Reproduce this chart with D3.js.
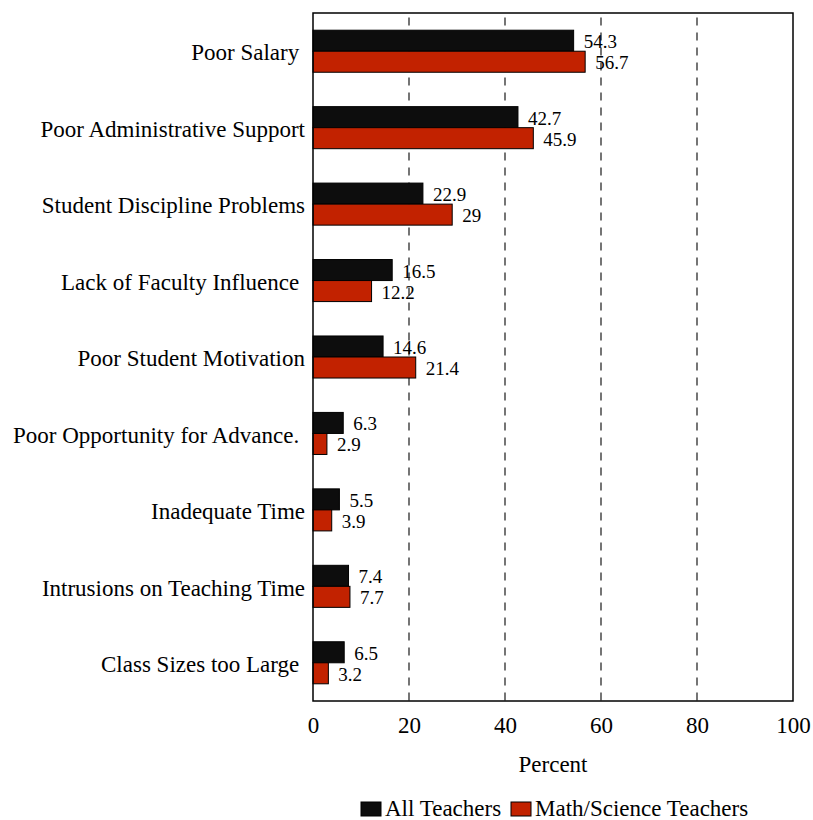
<!DOCTYPE html>
<html>
<head>
<meta charset="utf-8">
<script src="https://cdn.jsdelivr.net/npm/d3@7"></script>
<style>
  html, body { margin: 0; padding: 0; background: #fff; }
  svg { display: block; }
  text { font-family: "Liberation Serif", "Times New Roman", serif; fill: #000; }
</style>
</head>
<body>
<svg id="chart" width="813" height="820"></svg>
<script>
const categories = [
  "Poor Salary ",
  "Poor Administrative Support",
  "Student Discipline Problems",
  "Lack of Faculty Influence ",
  "Poor Student Motivation",
  "Poor Opportunity for Advance. ",
  "Inadequate Time",
  "Intrusions on Teaching Time",
  "Class Sizes too Large "
];
const seriesNames = ["All Teachers", "Math/Science Teachers"];
const allTeachers = [54.3, 42.7, 22.9, 16.5, 14.6, 6.3, 5.5, 7.4, 6.5];
const mathScience = [56.7, 45.9, 29, 12.2, 21.4, 2.9, 3.9, 7.7, 3.2];
const xTicks = [0, 20, 40, 60, 80, 100];
const gridTicks = [20, 40, 60, 80];
const axisTitle = "Percent";

(function () {
const colors = ["#0d0d0d", "#c22200"];
const seriesValues = [allTeachers, mathScience];

const svg = d3.select("#chart");
const pl = 313, pr = 793, pt = 13, pb = 701;

const x = d3.scaleLinear().domain([0, 100]).range([pl, pr]);
const y = d3.scaleBand().domain(categories).range([pt, pb])
  .paddingInner(0.45).paddingOuter(0.225);
const ySub = d3.scaleBand().domain(seriesNames).range([0, y.bandwidth()]);

// grid
svg.append("g").selectAll("line").data(gridTicks).join("line")
  .attr("x1", d => x(d)).attr("x2", d => x(d))
  .attr("y1", pt).attr("y2", pb)
  .attr("stroke", "#1a1a1a").attr("stroke-width", 1.2)
  .attr("stroke-dasharray", "8,7").attr("stroke-dashoffset", 10.5);

// bars
const rows = categories.map((c, i) => ({ c, vals: seriesValues.map((s, k) => ({ name: seriesNames[k], v: s[i], k })) }));
const g = svg.append("g").selectAll("g").data(rows).join("g")
  .attr("transform", d => `translate(0,${y(d.c)})`);

g.selectAll("rect").data(d => d.vals).join("rect")
  .attr("x", x(0))
  .attr("y", d => ySub(d.name))
  .attr("width", d => x(d.v) - x(0))
  .attr("height", ySub.bandwidth())
  .attr("fill", d => colors[d.k])
  .attr("stroke", "#000").attr("stroke-width", 1);

g.selectAll("text").data(d => d.vals).join("text")
  .attr("x", d => x(d.v) + 10)
  .attr("y", d => ySub(d.name) + ySub.bandwidth() / 2 + 1)
  .attr("dominant-baseline", "central")
  .style("font-size", "19px")
  .text(d => d.v);

// frame
svg.append("rect")
  .attr("x", pl).attr("y", pt)
  .attr("width", pr - pl).attr("height", pb - pt)
  .attr("fill", "none").attr("stroke", "#000").attr("stroke-width", 1.5);

// x axis
const xAxis = svg.append("g").attr("transform", `translate(0,${pb})`)
  .call(d3.axisBottom(x).tickValues(xTicks).tickSize(0).tickPadding(16).tickFormat(d3.format("d")));
xAxis.select(".domain").remove();
xAxis.selectAll("text").style("font-size", "23px").attr("fill", "#000");

// y axis
const yAxis = svg.append("g").attr("transform", `translate(${pl},0)`)
  .call(d3.axisLeft(y).tickSize(0).tickPadding(8));
yAxis.select(".domain").remove();
yAxis.selectAll("text").style("font-size", "23px").style("white-space", "pre")
  .attr("dy", "0.4em").attr("fill", "#000");

// axis title
svg.append("text")
  .attr("x", (pl + pr) / 2).attr("y", 772)
  .attr("text-anchor", "middle")
  .style("font-size", "23px")
  .text(axisTitle);

// legend
const legendItems = [
  { name: seriesNames[0], color: colors[0], rx: 361, tx: 385 },
  { name: seriesNames[1], color: colors[1], rx: 511, tx: 535 }
];
const lg = svg.append("g");
lg.selectAll("rect").data(legendItems).join("rect")
  .attr("x", d => d.rx).attr("y", 802)
  .attr("width", 20).attr("height", 14)
  .attr("fill", d => d.color).attr("stroke", "#000").attr("stroke-width", 1);
lg.selectAll("text").data(legendItems).join("text")
  .attr("x", d => d.tx).attr("y", 816)
  .style("font-size", "23px")
  .text(d => d.name);
})();
</script>
</body>
</html>
